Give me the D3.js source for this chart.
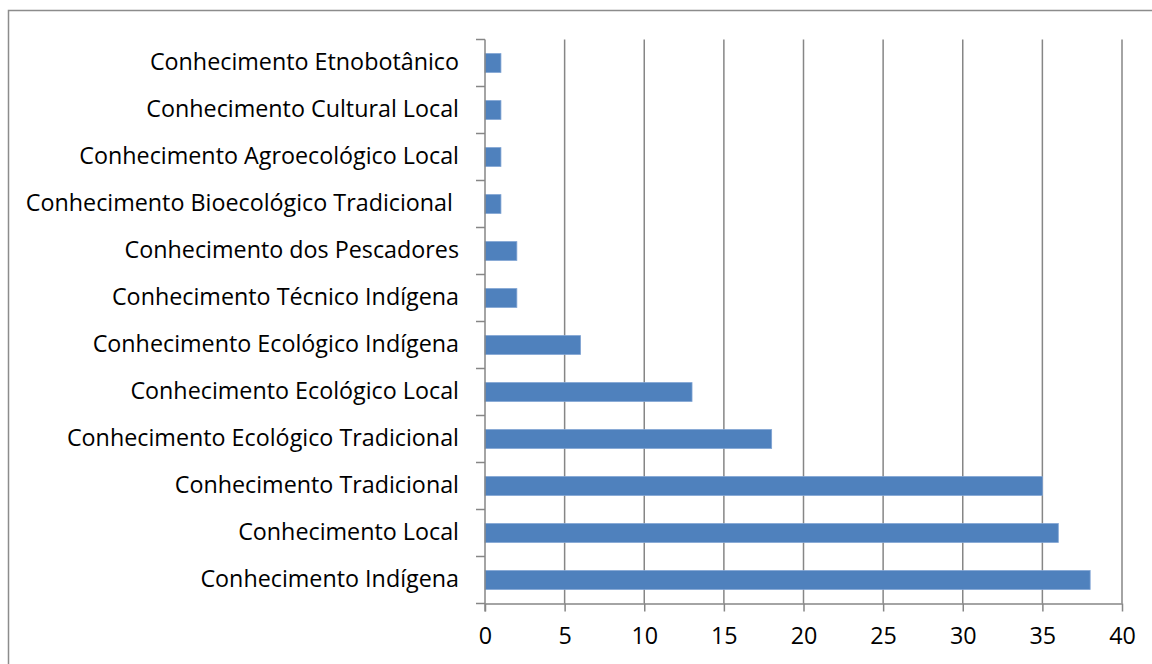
<!DOCTYPE html>
<html>
<head>
<meta charset="utf-8">
<script src="https://cdn.jsdelivr.net/npm/d3@7"></script>
<style>
  body { margin: 0; background: #fff; }
  svg text { font-family: "Open Sans", Lato, sans-serif; fill: #000; white-space: pre; }
</style>
</head>
<body>
<svg id="chart" width="1152" height="664"></svg>
<script>
// categories from top to bottom
var categories = [
    "Conhecimento Etnobotânico",
    "Conhecimento Cultural Local",
    "Conhecimento Agroecológico Local",
    "Conhecimento Bioecológico Tradicional ",
    "Conhecimento dos Pescadores",
    "Conhecimento Técnico Indígena",
    "Conhecimento Ecológico Indígena",
    "Conhecimento Ecológico Local",
    "Conhecimento Ecológico Tradicional",
    "Conhecimento Tradicional",
    "Conhecimento Local",
    "Conhecimento Indígena"
];
var values = [1, 1, 1, 1, 2, 2, 6, 13, 18, 35, 36, 38];
var xTicks = [0, 5, 10, 15, 20, 25, 30, 35, 40];

var svg = d3.select("#chart");
var plotLeft = 485, plotRight = 1122, plotTop = 39.5, plotBottom = 603.5;
var axisColor = "#868686";
var labelSize = "23.3px";

// outer frame (right and bottom fall outside the picture)
svg.append("rect")
    .attr("x", 8.5).attr("y", 10.5)
    .attr("width", 1160).attr("height", 700)
    .attr("fill", "none")
    .attr("stroke", "#8c8c8c")
    .attr("stroke-width", 1.5);

var x = d3.scaleLinear().domain([0, 40]).range([plotLeft, plotRight]);
var y = d3.scaleBand().domain(categories).range([plotTop, plotBottom])
    .paddingInner(0.6).paddingOuter(0.3);

// vertical gridlines
svg.append("g")
    .selectAll("line")
    .data(xTicks.slice(1))
    .enter().append("line")
    .attr("x1", function (d) { return x(d); })
    .attr("x2", function (d) { return x(d); })
    .attr("y1", plotTop)
    .attr("y2", plotBottom)
    .attr("stroke", axisColor)
    .attr("stroke-width", 1.5);

// bars
svg.append("g")
    .selectAll("rect")
    .data(values)
    .enter().append("rect")
    .attr("x", x(0))
    .attr("y", function (d, i) { return y(categories[i]); })
    .attr("width", function (d) { return x(d) - x(0); })
    .attr("height", y.bandwidth())
    .attr("fill", "#4f81bd")
    .attr("stroke", "#7fa3d3")
    .attr("stroke-width", 0.8);

// x axis
var xAxis = svg.append("g")
    .attr("transform", "translate(0," + plotBottom + ")")
    .call(d3.axisBottom(x).tickValues(xTicks).tickSize(8).tickPadding(16).tickSizeOuter(0));
xAxis.select(".domain").attr("stroke", axisColor).attr("stroke-width", 1.5);
xAxis.selectAll(".tick line").attr("stroke", axisColor).attr("stroke-width", 1.5);
xAxis.selectAll("text").style("font-size", labelSize).attr("fill", "#000");

// y axis, labels at band centers, ticks at band boundaries
var yAxis = svg.append("g")
    .attr("transform", "translate(" + plotLeft + ",0)")
    .call(d3.axisLeft(y).tickSize(0).tickPadding(26));
yAxis.select(".domain").remove();
yAxis.selectAll("text").style("font-size", labelSize).attr("fill", "#000");

var step = y.step();
var bounds = d3.range(categories.length + 1).map(function (i) { return plotTop + i * step; });
svg.append("line")
    .attr("x1", plotLeft).attr("x2", plotLeft)
    .attr("y1", plotTop).attr("y2", plotBottom + 8)
    .attr("stroke", axisColor).attr("stroke-width", 1.5);
svg.append("g")
    .selectAll("line")
    .data(bounds)
    .enter().append("line")
    .attr("x1", plotLeft - 9).attr("x2", plotLeft)
    .attr("y1", function (d) { return d; })
    .attr("y2", function (d) { return d; })
    .attr("stroke", axisColor).attr("stroke-width", 1.5);
</script>
</body>
</html>
